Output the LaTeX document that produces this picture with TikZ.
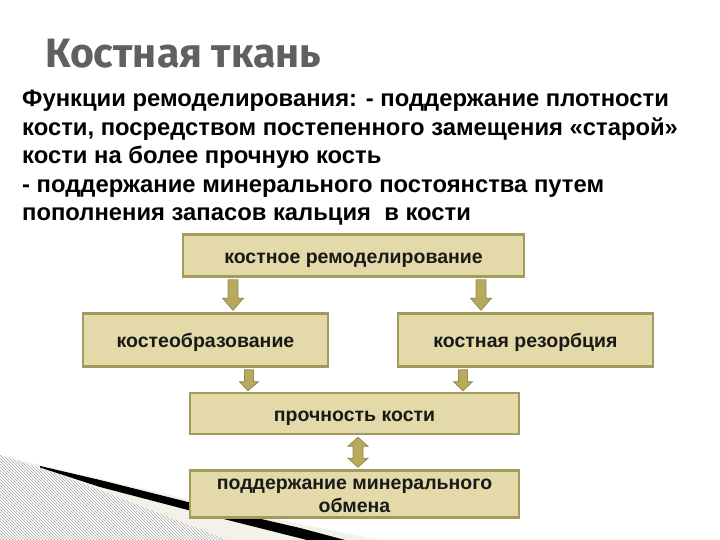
\documentclass[tikz,border=0pt]{standalone}
\usepackage{fontspec}
\setmainfont{Liberation Sans}
\newfontfamily\titlefont{Fira Sans}
\usetikzlibrary{calc}
\definecolor{boxfill}{HTML}{E4D9A8}
\definecolor{boxline}{HTML}{A39A5E}
\definecolor{arrfill}{HTML}{B7A95E}
\definecolor{arrline}{HTML}{958A4A}
\definecolor{titlegray}{HTML}{606060}
\definecolor{cream}{HTML}{F4F2E8}
\tikzset{
  box/.style={draw=boxline, line width=2.6pt, fill=boxfill,
    inner sep=0pt, align=center, text=black!90,
    font=\bfseries\fontsize{19.5}{23}\selectfont},
  oneline/.style={text height=19pt, text depth=4pt},
  boxtext/.style={anchor=base, inner sep=0pt, font=\bfseries\fontsize{19.5}{23}\selectfont, text=black!90},
  txt/.style={anchor=base west, inner sep=0pt, font=\bfseries\fontsize{23.8}{28}\selectfont},
  barrow/.style={fill=arrfill, draw=arrline, line width=0.8pt, line join=miter}
}
\newcommand\dnblock[5]{% top, bottom, shaft half, head half, head length
  \path[barrow] let \p1=(#1), \p2=(#2) in
    (\x1-#3,\y1) -- (\x1+#3,\y1) -- (\x1+#3,\y2+#5) -- (\x1+#4,\y2+#5) -- (\x2,\y2)
    -- (\x1-#4,\y2+#5) -- (\x1-#3,\y2+#5) -- cycle;}
\newcommand\dblblock[5]{%
  \path[barrow] let \p1=(#1), \p2=(#2) in
    (\x1,\y1) -- (\x1+#4,\y1-#5) -- (\x1+#3,\y1-#5) -- (\x1+#3,\y2+#5) -- (\x1+#4,\y2+#5) -- (\x2,\y2)
    -- (\x1-#4,\y2+#5) -- (\x1-#3,\y2+#5) -- (\x1-#3,\y1-#5) -- (\x1-#4,\y1-#5) -- cycle;}
\begin{document}
\begin{tikzpicture}[x=1pt,y=-1pt]
\useasboundingbox[fill=white] (0,0) rectangle (720,540);
% decoration bottom-left
\fill[cream] (0,455) -- (40,465) -- (188,499) -- (300,524) -- (380,540) -- (0,540) -- cycle;
\begin{scope}
  \clip (0,455) -- (40,468) -- (100,490) -- (227,540) -- (0,540) -- cycle;
  \fill[white] (0,440) rectangle (300,540);
  \foreach \i in {-120,-117,...,300} \draw[black!35, line width=0.5pt] (\i,440) -- ++(110,110);
\end{scope}
\fill[black] (40,466) -- (100,480) -- (188,502) -- (300,528) -- (345,540) -- (307,540)
  -- (188,510) -- (100,487) -- (40,467.5) -- cycle;
% title and text
\node[anchor=base west, inner sep=0pt, text=titlegray, font=\titlefont\bfseries\fontsize{41}{48}\selectfont] (title) at (45,68) {Костная ткань};
\node[txt] (t1) at (22,107) {Функции ремоделирования: - поддержание плотности};
\node[txt] (t2) at (22,136) {кости, посредством постепенного замещения «старой»};
\node[txt] (t3) at (22,164) {кости на более прочную кость};
\node[txt] (t4) at (22,193) {- поддержание минерального постоянства путем};
\node[txt] (t5) at (22,221) {пополнения запасов кальция\ \ в кости};
% boxes
\node[box, oneline, minimum width=341pt, minimum height=42pt] (b1) at (353.5,255.5) {костное ремоделирование};
\node[box, oneline, minimum width=245pt, minimum height=53pt] (b2) at (205.5,340) {костеобразование};
\node[box, oneline, minimum width=255pt, minimum height=53pt] (b3) at (525.5,340) {костная резорбция};
\node[box, oneline, minimum width=329pt, minimum height=41pt] (b4) at (354.5,413.5) {прочность кости};
\node[box, minimum width=329pt, minimum height=47pt] (b5) at (354.5,494) {};
\node[boxtext] (b5a) at (354.5,489) {поддержание минерального};
\node[boxtext] (b5b) at (354.5,512) {обмена};
% arrows
\coordinate (a1t) at ($(b1.south)+(-120.5,2)$);
\coordinate (a1b) at ($(b2.north)+(27.5,-2)$);
\coordinate (a2t) at ($(b1.south)+(127.5,2)$);
\coordinate (a2b) at ($(b3.north)+(-44.5,-2)$);
\dnblock{a1t}{a1b}{5}{10.5}{12}
\dnblock{a2t}{a2b}{5}{10.5}{12}
\coordinate (a3t) at ($(b2.south)+(43.5,2)$);
\coordinate (a3b) at ($(b4.north)+(-106.5,-1)$);
\coordinate (a4t) at ($(b3.south)+(-62.5,2)$);
\coordinate (a4b) at ($(b4.north)+(108.5,-1)$);
\dnblock{a3t}{a3b}{4.5}{9.5}{9}
\dnblock{a4t}{a4b}{4.5}{9.5}{9}
\coordinate (a5t) at ($(b4.south)+(3.5,2)$);
\coordinate (a5b) at ($(b5.north)+(3.5,-2)$);
\dblblock{a5t}{a5b}{5}{10}{9}
\end{tikzpicture}
\end{document}
